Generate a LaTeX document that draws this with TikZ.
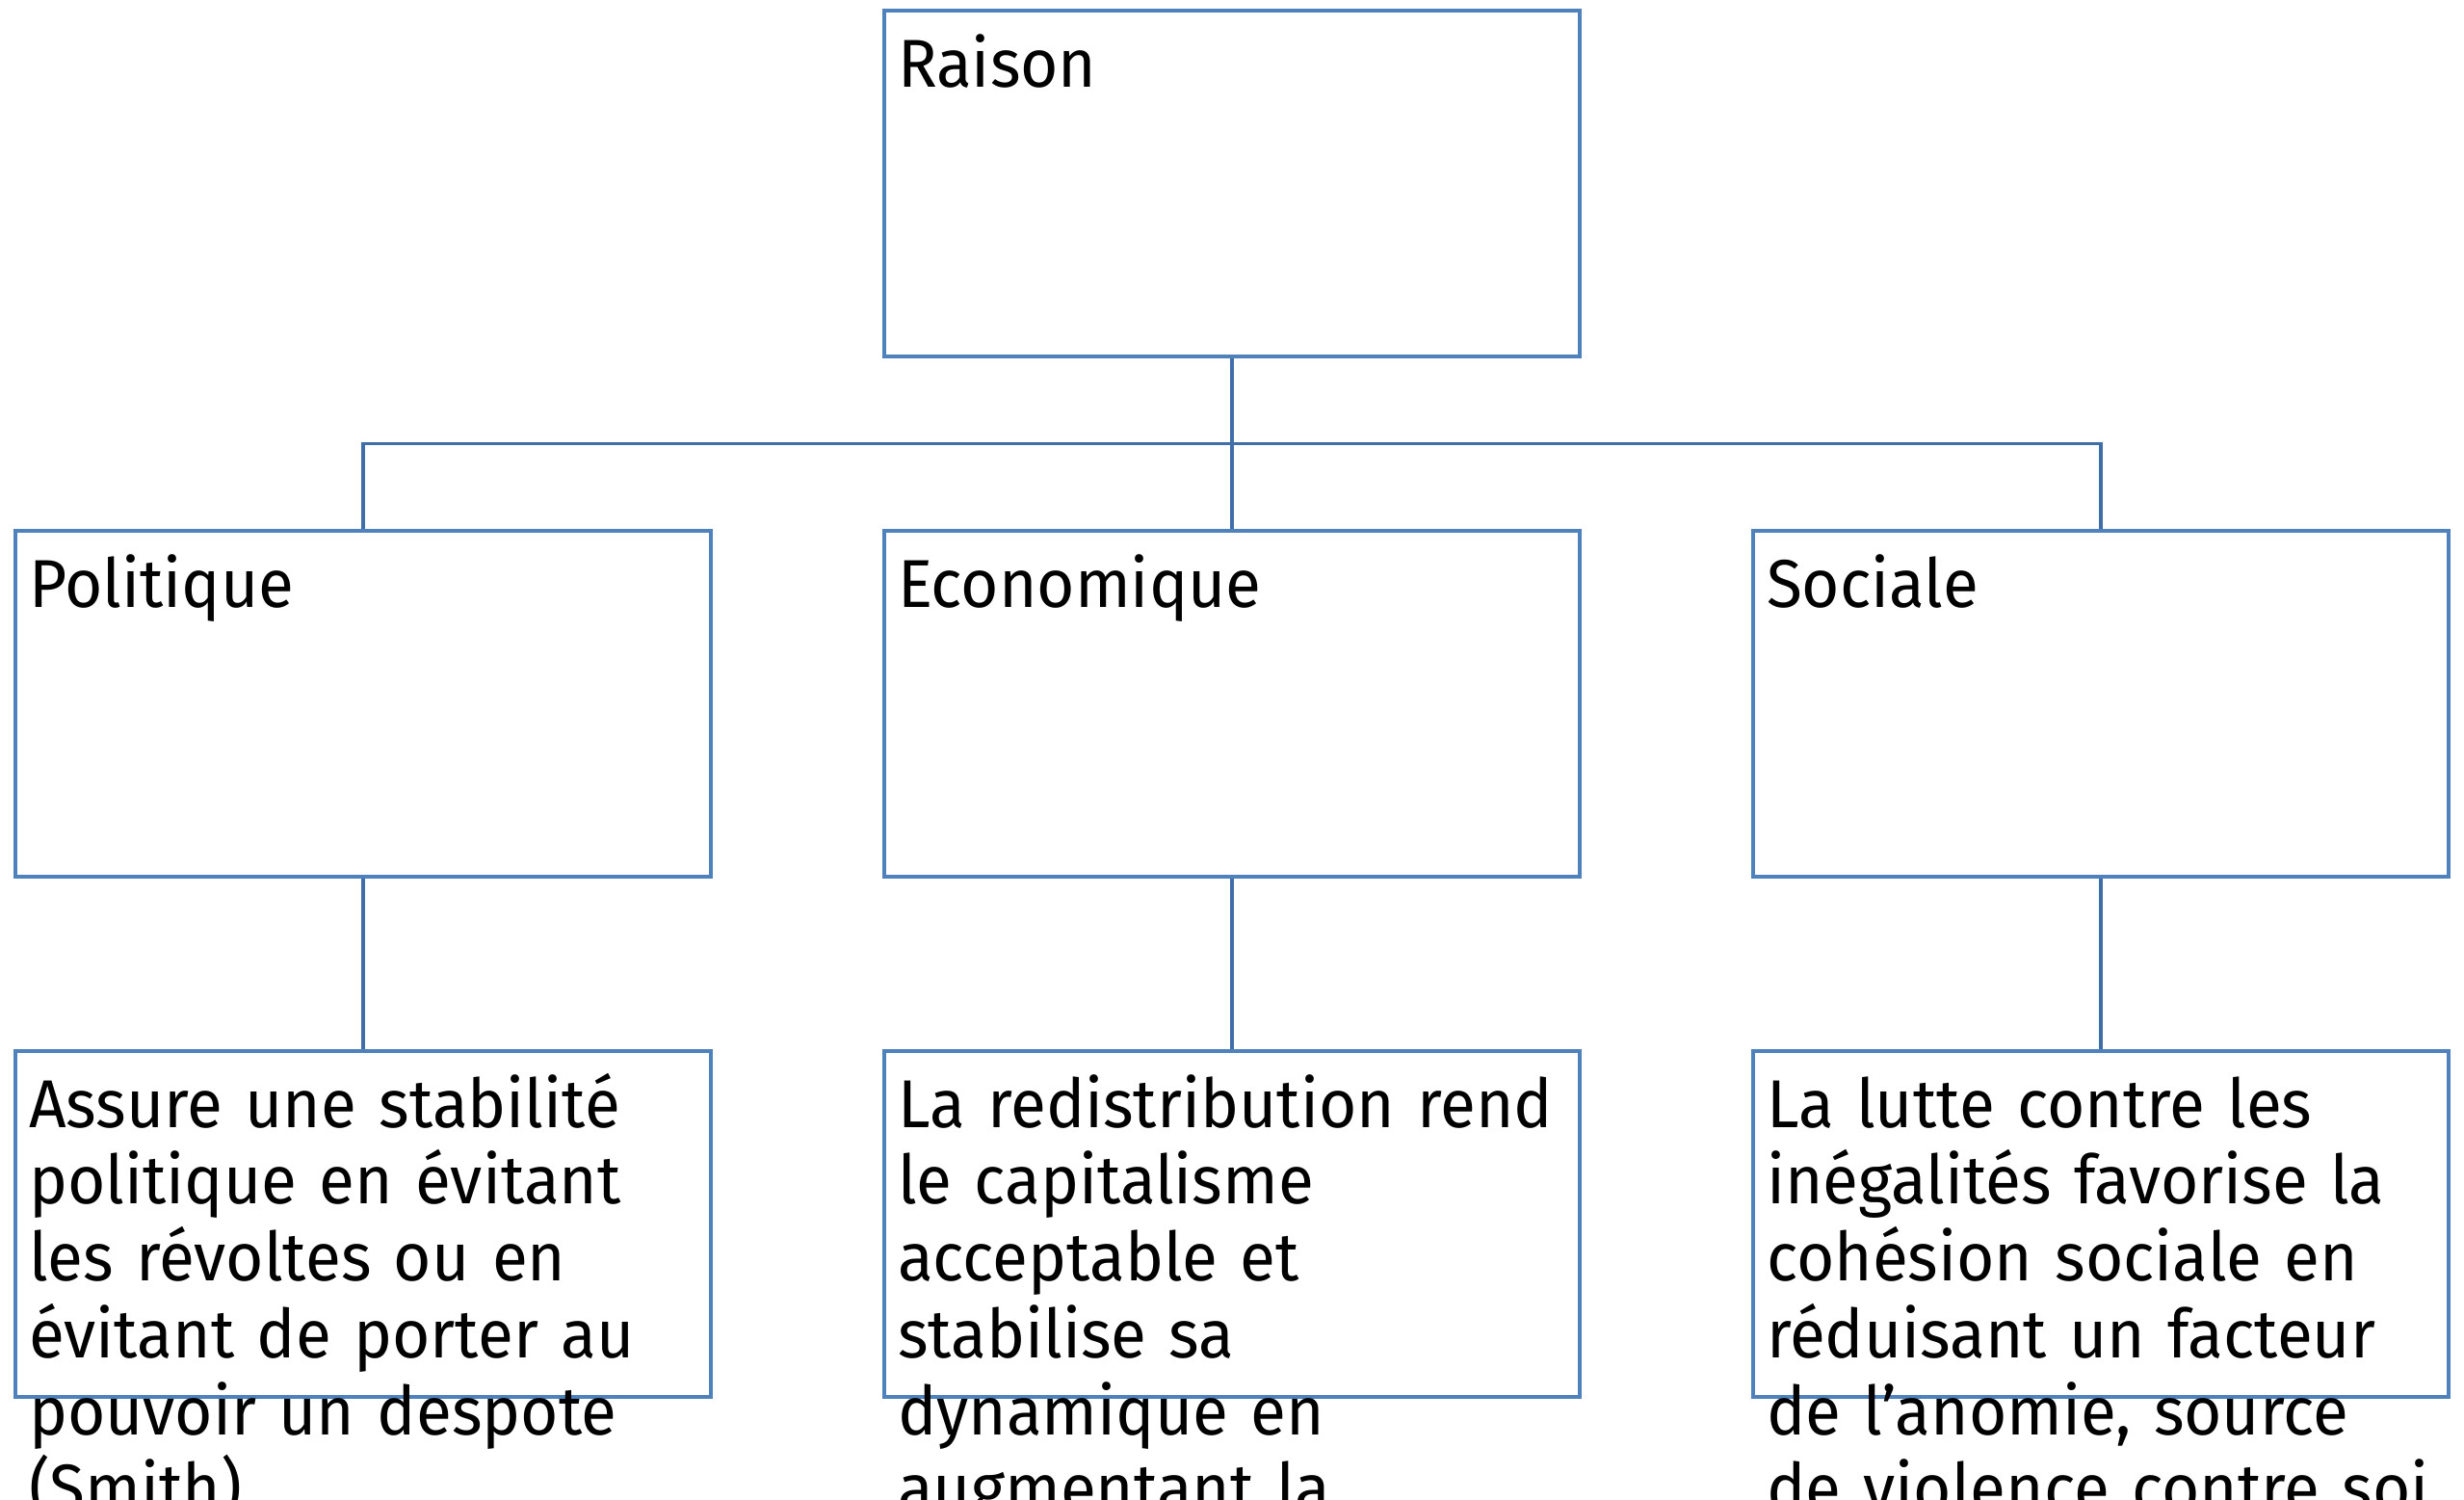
\documentclass[tikz,border=0pt]{standalone}
\usepackage{fontspec}
\setmainfont{Fira Sans}[FakeStretch=0.96]
\usetikzlibrary{positioning}
\definecolor{boxblue}{HTML}{4F81BD}
\definecolor{lineblue}{HTML}{3F6EA8}
\tikzstyle{box} = [rectangle, minimum width=7.22cm, minimum height=3.59cm, inner sep=0pt, draw=boxblue, line width=0.9pt]
\tikzstyle{lbl} = [anchor=north west, inner sep=0pt, text width=7.8cm, align=left, xshift=0.15cm, font=\fontsize{20}{22.7}\selectfont]
\tikzstyle{link} = [draw=lineblue, line width=0.9pt]

\begin{document}
\begin{tikzpicture}[node distance=5.4cm]
\useasboundingbox (0,0) rectangle (25.58,-15.56);
\clip (0,0) rectangle (25.58,-15.56);
\node (raison) [box] at (12.79,-1.905) {};
\node (eco) [box, below of=raison] {};
\node (pol) [box, left of=eco, xshift=-3.62cm] {};
\node (soc) [box, right of=eco, xshift=3.62cm] {};
\node (stab) [box, below of=pol] {};
\node (redis) [box, below of=eco] {};
\node (coh) [box, below of=soc] {};
% textes
\node (raisonlbl) [lbl] at (raison.north west) {\rule{0pt}{0.8cm}Raison};
\node (pollbl) [lbl] at (pol.north west) {\rule{0pt}{0.8cm}Politique};
\node (ecolbl) [lbl] at (eco.north west) {\rule{0pt}{0.8cm}Economique};
\node (soclbl) [lbl] at (soc.north west) {\rule{0pt}{0.8cm}Sociale};
\node (stablbl) [lbl] at (stab.north west) {\rule{0pt}{0.8cm}Assure une stabilité\\politique en évitant\\les révoltes ou en\\évitant de porter au\\pouvoir un despote\\(Smith)};
\node (redislbl) [lbl] at (redis.north west) {\rule{0pt}{0.8cm}La redistribution rend\\le capitalisme\\acceptable et\\stabilise sa\\dynamique en\\augmentant la};
\node (cohlbl) [lbl] at (coh.north west) {\rule{0pt}{0.8cm}La lutte contre les\\inégalités favorise la\\cohésion sociale en\\réduisant un facteur\\de l’anomie, source\\de violence contre soi};
% liens
\path (raison.south) -- coordinate[midway] (hub) (eco.north);
\draw [link] (raison.south) -- (eco.north);
\draw [link] (pol.north) |- (hub) -| (soc.north);
\draw [link] (pol.south) -- (stab.north);
\draw [link] (eco.south) -- (redis.north);
\draw [link] (soc.south) -- (coh.north);
\end{tikzpicture}
\end{document}
